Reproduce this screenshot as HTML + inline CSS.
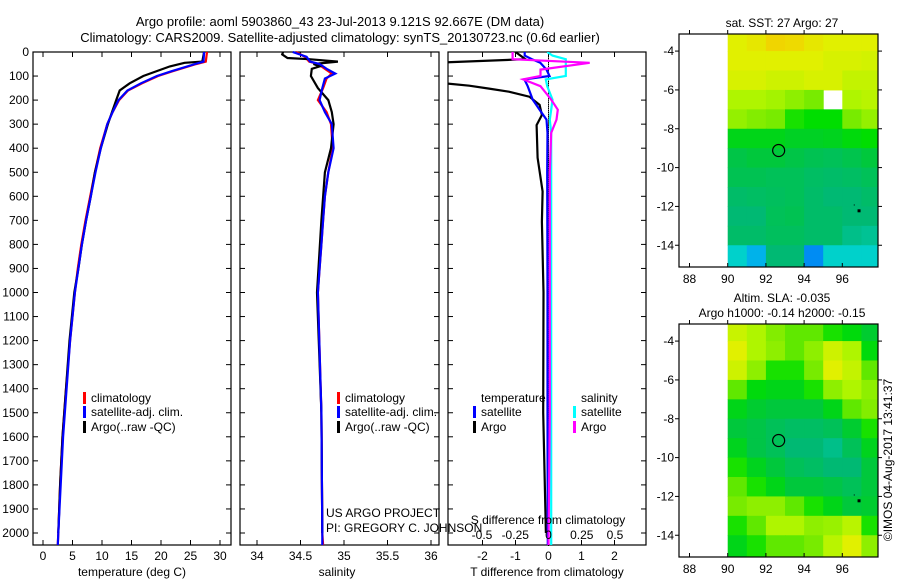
<!DOCTYPE html>
<html><head><meta charset="utf-8"><style>
body{margin:0;background:#fff}
svg{display:block;font-family:"Liberation Sans",sans-serif;font-size:12px}
</style></head><body>
<svg id="c" width="900" height="580"></svg>
<script>
// ---------- data ----------
const tDepth=[0,40,50,80,100,130,160,200,250,300,400,500,600,700,800,900,1000,1200,1400,1600,1800,2000,2050];
const tClim =[27.8,27.6,26,22,19.5,16.8,14.4,12.9,11.8,10.9,9.7,8.8,8.0,7.2,6.5,5.9,5.4,4.6,3.9,3.3,2.9,2.6,2.5];
const tSat  =[27.3,27.2,25.8,21.8,19.3,16.6,14.3,12.8,11.8,10.9,9.8,8.9,8.1,7.3,6.6,6.0,5.4,4.6,4.0,3.4,3.0,2.6,2.5];
const tArgoDepth=[0,40,45,60,100,130,160,200,250,300,400,500,600,700,800,900,1000,1200,1400,1600,1800,2000];
const tArgo =[27.3,27,24,21.5,17,14.7,13,12.4,11.7,11.0,9.8,8.8,8.1,7.3,6.6,6.0,5.3,4.5,3.9,3.3,2.9,2.6];

const sDepth=[0,20,40,50,70,90,110,150,200,250,300,400,500,600,700,800,900,1000,1500,2000,2050];
const sClim =[34.45,34.55,34.6,34.7,34.78,34.86,34.8,34.76,34.7,34.8,34.85,34.87,34.82,34.78,34.76,34.74,34.72,34.70,34.74,34.75,34.76];
const sSat  =[34.41,34.57,34.61,34.72,34.8,34.9,34.78,34.75,34.72,34.78,34.86,34.88,34.82,34.78,34.76,34.74,34.72,34.70,34.74,34.75,34.75];
const sArgoDepth=[0,10,25,30,40,50,60,70,100,150,200,250,300,400,500,700,1000,1500,2000];
const sArgo =[34.3,34.29,34.35,34.6,34.93,34.65,34.72,34.63,34.62,34.7,34.82,34.86,34.88,34.85,34.78,34.74,34.69,34.74,34.75];

const dDepth=[0,15,30,45,73,100,114,142,198,240,281,336,500,1000,1500,2050];
const dTSat =[-0.72,-0.72,-0.5,-0.25,-0.06,0.03,-0.73,-0.63,-0.48,-0.27,-0.06,-0.03,-0.04,-0.03,-0.03,-0.02];
const dTArgoDepth=[0,30,45,125,140,152,165,186,220,262,304,440,580,706,1000,1500,2000];
const dTArgo=[-1.0,-0.7,-3.5,-3.5,-2.4,-1.8,-1.2,-0.58,-0.27,-0.2,-0.36,-0.33,-0.18,-0.2,-0.15,-0.16,-0.08];
const dSSat =[-0.01,0.03,0.13,0.13,0.13,0.13,-0.02,-0.01,0.03,0.02,0.01,0.02,0.02,0.02,0.02,0.02];
const dSArgo=[-0.27,-0.27,-0.27,0.31,-0.06,-0.06,-0.19,-0.06,0.02,0.07,0.06,0.02,0.01,0.01,0.01,0.0];

const mapLons=[90.5,91.5,92.5,93.5,94.5,95.5,96.5,97.5];
const mapLats=[-3.5,-4.5,-5.5,-6.5,-7.5,-8.5,-9.5,-10.5,-11.5,-12.5,-13.5,-14.5];
const sst=[
[0.8,0.82,0.86,0.85,0.82,0.8,0.8,0.8],
[0.8,0.8,0.8,0.8,0.8,0.78,0.78,0.77],
[0.78,0.78,0.76,0.76,0.78,0.78,0.74,0.74],
[0.7,0.7,0.68,0.64,0.6,null,0.7,0.72],
[0.65,0.62,0.6,0.52,0.5,0.5,0.6,0.65],
[0.46,0.46,0.46,0.44,0.44,0.45,0.48,0.5],
[0.38,0.4,0.4,0.38,0.36,0.35,0.37,0.4],
[0.36,0.36,0.35,0.35,0.33,0.32,0.33,0.35],
[0.32,0.33,0.34,0.35,0.32,0.3,0.3,0.32],
[0.3,0.3,0.35,0.36,0.32,0.32,0.3,0.3],
[0.32,0.32,0.34,0.34,0.32,0.32,0.28,0.27],
[0.22,0.17,0.3,0.3,0.14,0.22,0.22,0.22]];
const sla=[
[0.75,0.7,0.62,0.58,0.58,0.52,0.48,0.42],
[0.8,0.7,0.64,0.58,0.64,0.76,0.7,0.48],
[0.76,0.64,0.52,0.52,0.6,0.8,0.74,0.58],
[0.58,0.48,0.46,0.46,0.52,0.64,0.7,0.64],
[0.46,0.42,0.4,0.4,0.4,0.46,0.58,0.62],
[0.4,0.38,0.35,0.33,0.33,0.35,0.42,0.52],
[0.45,0.38,0.35,0.3,0.3,0.28,0.35,0.45],
[0.52,0.45,0.4,0.35,0.33,0.3,0.3,0.4],
[0.58,0.52,0.46,0.4,0.4,0.38,0.35,0.4],
[0.6,0.64,0.64,0.58,0.52,0.46,0.4,0.42],
[0.52,0.58,0.7,0.7,0.64,0.66,0.72,0.52],
[0.46,0.52,0.58,0.58,0.6,0.72,0.8,0.64]];
const floatLon=92.667, floatLat=-9.121;
const depthTicks=[0,100,200,300,400,500,600,700,800,900,1000,1100,1200,1300,1400,1500,1600,1700,1800,1900,2000];
const tTicks=[0,5,10,15,20,25,30];
const sTicks=[34,34.5,35,35.5,36];
const sTickLabels=["34","34.5","35","35.5","36"];
const dTTicks=[-2,-1,0,1,2];
const dSTicks=[-0.5,-0.25,0,0.25,0.5];
const dSTickLabels=["-0.5","-0.25","0","0.25","0.5"];
const lonTicks=[88,90,92,94,96];
const latTicks=[-4,-6,-8,-10,-12,-14];

// ---------- helpers ----------
const svg=document.getElementById('c');
const NS='http://www.w3.org/2000/svg';
function mk(tag,attrs,parent){const e=document.createElementNS(NS,tag);for(const k in attrs)e.setAttribute(k,attrs[k]);(parent||svg).appendChild(e);return e;}
function txt(x,y,s,anchor,parent){const e=mk('text',{x:x,y:y,'text-anchor':anchor||'start',fill:'#000'},parent);e.textContent=s;return e;}
const Y=d=>52+d*0.2405;
const PT={L:33,R:231,x:v=>43+v*5.9};
const PS={L:240,R:439,x:v=>257+(v-34)*87};
const PD={L:448,R:646,xt:v=>548.5+v*33,xs:v=>548.5+v*133};
const TOP=52,BOT=545;

function frame(P,name){
  const r=mk('rect',{x:P.L,y:TOP,width:P.R-P.L,height:BOT-TOP,fill:'none',stroke:'#000','stroke-width':1.2});
  
  
  depthTicks.forEach(d=>{mk('line',{x1:P.L,x2:P.L+5,y1:Y(d),y2:Y(d),stroke:'#000'});mk('line',{x1:P.R-5,x2:P.R,y1:Y(d),y2:Y(d),stroke:'#000'});});
}
function line(xs,ds,fx,color,name,w,clip){
  const pts=xs.map((v,i)=>fx(v).toFixed(1)+','+Y(ds[i]).toFixed(1)).join(' ');
  const p=mk('polyline',{points:pts,fill:'none',stroke:color,'stroke-width':w||2.2});
  if(clip)p.setAttribute('clip-path','url(#clipD)');
  
  
}
const defs=mk('defs',{});
const cp=mk('clipPath',{id:'clipD'},defs);mk('rect',{x:PD.L,y:TOP,width:PD.R-PD.L,height:BOT-TOP},cp);

// titles
let t=txt(340,26,'Argo profile: aoml 5903860_43 23-Jul-2013 9.121S 92.667E (DM data)','middle');
t.setAttribute('font-size','13');
t=txt(340,42,'Climatology: CARS2009. Satellite-adjusted climatology: synTS_20130723.nc (0.6d earlier)','middle');
t.setAttribute('font-size','13');

// depth labels
depthTicks.forEach(d=>{const e=txt(29,Y(d)+4,String(d),'end');});

// panel 1
frame(PT,'temperature-panel');
tTicks.forEach(v=>{mk('line',{x1:PT.x(v),x2:PT.x(v),y1:BOT,y2:BOT-5,stroke:'#000'});mk('line',{x1:PT.x(v),x2:PT.x(v),y1:TOP,y2:TOP+5,stroke:'#000'});const e=txt(PT.x(v),560,String(v),'middle');});
t=txt(132,576,'temperature (deg C)','middle');
line(tClim,tDepth,PT.x,'#f00','temp-climatology-line');
line(tArgo,tArgoDepth,PT.x,'#000','temp-argo-line');
line(tSat,tDepth,PT.x,'#00f','temp-satellite-line');

// panel 2
frame(PS,'salinity-panel');
sTicks.forEach((v,i)=>{mk('line',{x1:PS.x(v),x2:PS.x(v),y1:BOT,y2:BOT-5,stroke:'#000'});mk('line',{x1:PS.x(v),x2:PS.x(v),y1:TOP,y2:TOP+5,stroke:'#000'});const e=txt(PS.x(v),560,sTickLabels[i],'middle');});
t=txt(337,576,'salinity','middle');
line(sClim,sDepth,PS.x,'#f00','sal-climatology-line');
line(sArgo,sArgoDepth,PS.x,'#000','sal-argo-line');
line(sSat,sDepth,PS.x,'#00f','sal-satellite-line');

// panel 3
frame(PD,'difference-panel');
for(let d=0;d<2050;d+=8)mk('line',{x1:548.5,x2:548.5,y1:Y(d),y2:Y(d)+1.5,stroke:'#000'});
dTTicks.forEach(v=>{mk('line',{x1:PD.xt(v),x2:PD.xt(v),y1:BOT,y2:BOT-5,stroke:'#000'});mk('line',{x1:PD.xt(v),x2:PD.xt(v),y1:TOP,y2:TOP+5,stroke:'#000'});const e=txt(PD.xt(v),560,String(v),'middle');});
t=txt(547,576,'T difference from climatology','middle');
line(dTArgo,dTArgoDepth,PD.xt,'#000','tdiff-argo-line',2.2,true);
line(dTSat,dDepth,PD.xt,'#00f','tdiff-satellite-line',2.2,true);
line(dSSat,dDepth,PD.xs,'#0ff','sdiff-satellite-line',2.2,true);
line(dSArgo,dDepth,PD.xs,'#f0f','sdiff-argo-line',2.2,true);

// legends
function leg(x,y,color,label,name){mk('rect',{x:x,y:y-10,width:3,height:12,fill:color});const e=txt(x+8,y,label);}
leg(83,402,'#f00','climatology','legend-climatology');
leg(83,416,'#00f','satellite-adj. clim.','legend-satellite');
leg(83,431,'#000','Argo(..raw -QC)','legend-argo');
leg(337,402,'#f00','climatology','legend2-climatology');
leg(337,416,'#00f','satellite-adj. clim.','legend2-satellite');
leg(337,431,'#000','Argo(..raw -QC)','legend2-argo');
t=txt(481,402,'temperature');
t=txt(581,402,'salinity');
leg(473,416,'#00f','satellite','legend-t-satellite');
leg(473,431,'#000','Argo','legend-t-argo');
leg(573,416,'#0ff','satellite','legend-s-satellite');
leg(573,431,'#f0f','Argo','legend-s-argo');
t=txt(326,517,'US ARGO PROJECT');
t=txt(326,532,'PI: GREGORY C. JOHNSON');
t=txt(548,524,'S difference from climatology','middle');
dSTicks.forEach((v,i)=>{const e=txt(PD.xs(v),539,dSTickLabels[i],'middle');});

// maps
const stops=[[0.1,[0,90,255]],[0.2,[0,215,225]],[0.3,[0,185,115]],[0.4,[0,200,60]],[0.5,[0,222,0]],[0.6,[120,235,0]],[0.7,[175,245,0]],[0.8,[225,240,0]],[0.9,[250,195,0]]];
function col(v){if(v<=stops[0][0])return 'rgb('+stops[0][1]+')';for(let i=1;i<stops.length;i++){if(v<=stops[i][0]){const a=stops[i-1],b=stops[i],f=(v-a[0])/(b[0]-a[0]);return 'rgb('+a[1].map((c,k)=>Math.round(c+(b[1][k]-c)*f)).join(',')+')';}}return 'rgb('+stops[stops.length-1][1]+')';}
function map(top,bot,grid,name,titleLines,titleY){
  const L=679,R=878,lon0=87.45,lat0=-3.12;
  const ppx=19.1,ppy=(bot-top)/(15.12-3.12);
  const X=lon=>L+(lon-lon0)*ppx, YY=lat=>top+(lat0-lat)*ppy;
  const g=mk('g',{});
  
  
  grid.forEach((row,r)=>row.forEach((v,c)=>{
    if(v===null)return;
    const la=mapLats[r],lo=mapLons[c];
    const y1=Math.max(top,YY(la+0.5)),y2=Math.min(bot,YY(la-0.5-(r===mapLats.length-1?0.62:0)));
    const x2=Math.min(R,X(lo+0.5));
    const cell=mk('rect',{x:X(lo-0.5),y:y1,width:x2-X(lo-0.5)+0.5,height:y2-y1+0.5,fill:col(v)},g);
    
    
  }));
  mk('rect',{x:L,y:top,width:R-L,height:bot-top,fill:'none',stroke:'#000','stroke-width':1.2},g);
  lonTicks.forEach(v=>{mk('line',{x1:X(v),x2:X(v),y1:bot,y2:bot-4,stroke:'#000'},g);mk('line',{x1:X(v),x2:X(v),y1:top,y2:top-4,stroke:'#000'},g);const e=txt(X(v),bot+16,String(v),'middle',g);});
  latTicks.forEach(v=>{mk('line',{x1:L,x2:L-4,y1:YY(v),y2:YY(v),stroke:'#000'},g);mk('line',{x1:R,x2:R+4,y1:YY(v),y2:YY(v),stroke:'#000'},g);const e=txt(L-5,YY(v)+4,String(v),'end',g);});
  const c=mk('circle',{cx:X(floatLon),cy:YY(floatLat),r:6,fill:'none',stroke:'#000','stroke-width':1.2},g);
  
  mk('rect',{x:X(96.85)-1,y:YY(-12.2)-1,width:3,height:3,fill:'#000'},g);
  mk('rect',{x:X(96.6),y:YY(-11.9),width:1,height:1,fill:'#000'},g);
  titleLines.forEach((s,i)=>{const e=txt(782,titleY[i],s,'middle',g);});
}
map(34,267,sst,'sst-map',['sat. SST: 27 Argo: 27'],[27]);
map(324,557,sla,'sla-map',['Altim. SLA: -0.035','Argo h1000: -0.14 h2000: -0.15'],[302,317]);
t=txt(0,0,'©IMOS 04-Aug-2017 13:41:37','middle');
t.setAttribute('transform','translate(892,460) rotate(-90)');

</script>
</body></html>
